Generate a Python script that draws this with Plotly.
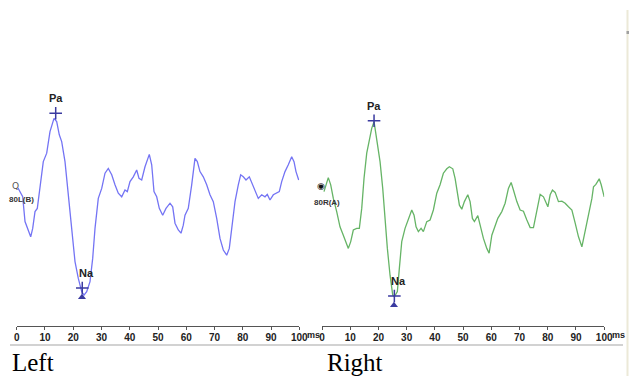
import plotly.graph_objects as go

W, H = 630, 376

# ---- Left ear (80L(B)) waveform: latency (ms) and amplitude (arb. units)
left_t = [0.46, 2.12, 2.94, 4.10, 4.95, 5.66, 6.48, 7.29, 8.24, 9.41, 10.62, 11.78, 13.20, 14.15,
          15.07, 15.92, 17.09, 18.26, 19.46, 20.63, 21.80, 23.00, 23.81, 24.77, 25.94, 26.89,
          27.71, 28.87, 30.08, 31.25, 32.41, 33.62, 34.78, 35.95, 37.16, 38.32, 39.14, 40.09,
          41.26, 42.46, 43.28, 44.23, 45.40, 46.92, 47.77, 48.58, 49.54, 50.46, 51.66, 52.83,
          54.25, 55.20, 56.02, 57.18, 58.14, 58.95, 59.55, 60.72, 61.92, 63.09, 63.91, 64.86,
          66.03, 67.23, 68.40, 69.57, 70.77, 71.94, 73.11, 74.31, 75.23, 76.08, 77.25, 78.41,
          79.26, 80.18, 81.14, 82.31, 83.51, 84.32, 85.49, 86.70, 87.86, 88.68, 89.63, 90.80,
          92.00, 92.92, 93.77, 94.94, 96.11, 97.31, 98.13, 98.83, 99.79]
left_a = [0.30, 0.08, -0.54, -0.79, -0.92, -0.71, -0.29, -0.21, 0.30, 0.96, 1.17, 1.71, 2.04, 1.96,
          1.63, 1.46, 0.96, 0.13, -0.88, -1.54, -1.96, -2.29, -2.38, -2.29, -2.04, -1.46,
          -0.71, 0.04, 0.29, 0.67, 0.79, 0.63, 0.38, 0.17, 0.08, 0.25, 0.21, 0.46,
          0.58, 0.75, 0.54, 0.50, 0.83, 1.14, 0.88, 0.21, 0.08, -0.21, -0.38, -0.21,
          -0.08, -0.17, -0.58, -0.75, -0.83, -0.63, -0.38, -0.21, 0.38, 1.04, 0.96, 0.71,
          0.58, 0.38, 0.13, -0.04, -0.46, -0.96, -1.25, -1.38, -1.21, -0.71, -0.04, 0.38,
          0.63, 0.58, 0.50, 0.58, 0.38, 0.21, 0.04, 0.13, 0.08, 0.14, 0.00, 0.13,
          0.17, 0.21, 0.46, 0.71, 0.88, 1.08, 0.96, 0.71, 0.50]

# ---- Right ear (80R(A)) waveform
right_t = [0.71, 1.42, 2.23, 3.09, 4.01, 5.21, 6.38, 7.55, 8.76, 9.33, 10.18, 11.10, 12.30, 13.23,
           14.08, 14.89, 15.85, 16.77, 17.62, 18.44, 19.40, 20.57, 21.52, 22.34, 23.16, 24.11,
           25.07, 25.64, 26.70, 27.41, 28.26, 29.43, 30.60, 31.81, 32.62, 33.33, 34.15, 35.11,
           35.92, 37.13, 38.30, 39.47, 40.67, 41.84, 43.01, 44.22, 45.14, 46.35, 47.16, 47.98,
           48.69, 49.54, 50.46, 51.67, 52.48, 53.30, 54.01, 55.21, 56.03, 57.20, 58.40, 59.22,
           60.18, 61.35, 62.30, 63.72, 64.89, 66.06, 67.02, 67.84, 69.04, 70.21, 71.38, 72.59,
           73.76, 74.93, 76.13, 77.30, 78.48, 79.33, 80.04, 80.85, 81.67, 82.62, 83.79, 85.00,
           86.17, 87.34, 88.55, 89.72, 90.89, 92.09, 93.26, 94.43, 95.64, 96.21, 97.06, 98.23,
           98.94, 100.0]
right_a = [0.21, 0.38, 0.56, 0.38, 0.04, -0.29, -0.67, -0.88, -1.13, -1.21, -1.04, -0.75, -0.71, -0.71,
           -0.21, 0.54, 1.17, 1.46, 1.79, 1.96, 1.54, 0.96, 0.29, -0.54, -1.21, -1.88,
           -2.38, -2.42, -2.29, -1.71, -1.04, -0.71, -0.46, -0.25, -0.38, -0.67, -0.79, -0.71,
           -0.79, -0.54, -0.50, -0.25, 0.17, 0.38, 0.67, 0.78, 0.83, 0.78, 0.54, 0.21,
           -0.13, -0.23, -0.04, 0.13, -0.04, -0.46, -0.54, -0.39, -0.63, -0.96, -1.21, -1.33,
           -0.88, -0.63, -0.46, -0.29, -0.08, 0.29, 0.44, 0.25, -0.04, -0.25, -0.28, -0.50,
           -0.69, -0.69, -0.25, 0.14, 0.08, -0.08, -0.17, 0.13, 0.25, 0.19, -0.04, -0.03,
           -0.08, -0.17, -0.25, -0.58, -0.92, -1.17, -0.79, -0.38, 0.04, 0.33, 0.39, 0.53,
           0.38, 0.08]

# ---- Peak cursors (Pa / Na)
left_peak_lat = [13.8, 23.2]
left_peak_amp = [2.17, -2.20]
left_peak_lbl = ["Pa", "Na"]
right_peak_lat = [18.44, 25.64]
right_peak_amp = [1.98, -2.40]
right_peak_lbl = ["Pa", "Na"]
left_na_base = (23.1, -2.43)
right_na_base = (25.5, -2.63)

tick_vals = [0, 10, 20, 30, 40, 50, 60, 70, 80, 90, 100]
tick_text = ["0", "10", "20", "30", "40", "50", "60", "70", "80", "90", "100"]
unit_label = "ms"

left_name, right_name = "80L(B)", "80R(A)"
left_title, right_title = "Left", "Right"

NARROW = "Liberation Sans Narrow, Liberation Sans, Arial, sans-serif"
SERIF = "Liberation Serif, Times New Roman, serif"
CURSOR = "#3a3aa0"

fig = go.Figure()
fig.add_trace(go.Scatter(x=left_t, y=left_a, mode="lines", xaxis="x", yaxis="y",
                         line=dict(color="#7474f4", width=1.3), showlegend=False))
fig.add_trace(go.Scatter(x=right_t, y=right_a, mode="lines", xaxis="x2", yaxis="y",
                         line=dict(color="#66b466", width=1.3), showlegend=False))

for xa, lat, amp, base in [("x", left_peak_lat, left_peak_amp, left_na_base),
                           ("x2", right_peak_lat, right_peak_amp, right_na_base)]:
    fig.add_trace(go.Scatter(x=lat, y=amp, mode="markers", xaxis=xa, yaxis="y",
                             marker=dict(symbol="cross-thin-open", size=9, color=CURSOR,
                                         line=dict(color=CURSOR, width=1.5)),
                             showlegend=False))
    fig.add_trace(go.Scatter(x=[base[0]], y=[base[1]], mode="markers", xaxis=xa, yaxis="y",
                             marker=dict(symbol="triangle-up", size=7, color=CURSOR),
                             showlegend=False))

ann = []
for xr, lat, amp, lbl in [("x", left_peak_lat, left_peak_amp, left_peak_lbl),
                          ("x2", right_peak_lat, right_peak_amp, right_peak_lbl)]:
    for i in range(len(lat)):
        ann.append(dict(x=lat[i], y=amp[i], xref=xr, yref="y", text=lbl[i], showarrow=False,
                        yshift=15, xshift=(0 if lbl[i] == "Pa" else 4),
                        font=dict(family=NARROW, size=11, color="#222", weight="bold")))

for xr in ["x", "x2"]:
    ann.append(dict(x=100, y=0, xref=xr, yref="paper", text=unit_label, showarrow=False,
                    xanchor="left", yanchor="middle", xshift=7, yshift=376 - 335, borderpad=0,
                    font=dict(family=NARROW, size=9, color="#222", weight="bold")))

# channel labels
ann.append(dict(x=0, y=0.30, xref="x", yref="y", text="Q", showarrow=False, xshift=-1, yshift=2,
                font=dict(family="DejaVu Sans", size=9, color="#555")))
ann.append(dict(x=0, y=0.30, xref="x", yref="y", text=left_name, showarrow=False, xshift=5, yshift=-11,
                font=dict(family=NARROW, size=8, color="#333", weight="bold")))
ann.append(dict(x=0, y=0.30, xref="x2", yref="y", text="\u25c9", showarrow=False, xshift=-1, yshift=2,
                font=dict(family="DejaVu Sans", size=9, color="#111")))
ann.append(dict(x=0, y=0.30, xref="x2", yref="y", text=right_name, showarrow=False, xshift=5, yshift=-14,
                font=dict(family=NARROW, size=8, color="#333", weight="bold")))

ann.append(dict(x=10 / W, y=1 - 362 / H, xref="paper", yref="paper", text=left_title,
                showarrow=False, xanchor="left", yanchor="middle",
                font=dict(family=SERIF, size=25, color="#000")))
ann.append(dict(x=325 / W, y=1 - 362 / H, xref="paper", yref="paper", text=right_title,
                showarrow=False, xanchor="left", yanchor="middle",
                font=dict(family=SERIF, size=25, color="#000")))

axis_common = dict(range=[0, 100], tickmode="array", tickvals=tick_vals, ticktext=tick_text,
                   showgrid=False, zeroline=False, showline=True, linecolor="#555", linewidth=1,
                   ticks="outside", ticklen=3, tickcolor="#555", anchor="free", tickangle=0,
                   position=1 - 325.7 / H, fixedrange=True, ticklabelstandoff=-1,
                   automargin=False,
                   tickfont=dict(family=NARROW, size=10, color="#222", weight="bold"))

shapes = [
    dict(type="line", xref="paper", yref="paper", x0=10 / W, x1=320 / W, y0=1 - 345 / H, y1=1 - 345 / H,
         line=dict(color="#d2d2d2", width=2)),
    dict(type="line", xref="paper", yref="paper", x0=320 / W, x1=623 / W, y0=1 - 345 / H, y1=1 - 345 / H,
         line=dict(color="#d2d2d2", width=2)),
    dict(type="line", xref="paper", yref="paper", x0=627.5 / W, x1=627.5 / W, y0=0, y1=1 - 10 / H,
         line=dict(color="#ece9d8", width=2)),
    dict(type="rect", xref="paper", yref="paper", x0=626.5 / W, x1=629 / W, y0=1 - 34 / H, y1=1 - 31 / H,
         line=dict(width=0), fillcolor="#a0a0a0"),
]

fig.update_layout(
    width=W, height=H, autosize=False,
    margin=dict(l=0, r=0, t=0, b=0, pad=0),
    paper_bgcolor="white", plot_bgcolor="white",
    xaxis=dict(domain=[16.7 / W, 299.3 / W], **axis_common),
    xaxis2=dict(domain=[322 / W, 604.2 / W], **axis_common),
    yaxis=dict(domain=[0, 1], range=[-4.4, 5.0], visible=False, fixedrange=True, automargin=False),
    annotations=ann, shapes=shapes, showlegend=False,
)

fig.write_html("out.html", config={"displayModeBar": False},
               post_script="document.body.style.margin='0';document.body.style.overflow='hidden';")
